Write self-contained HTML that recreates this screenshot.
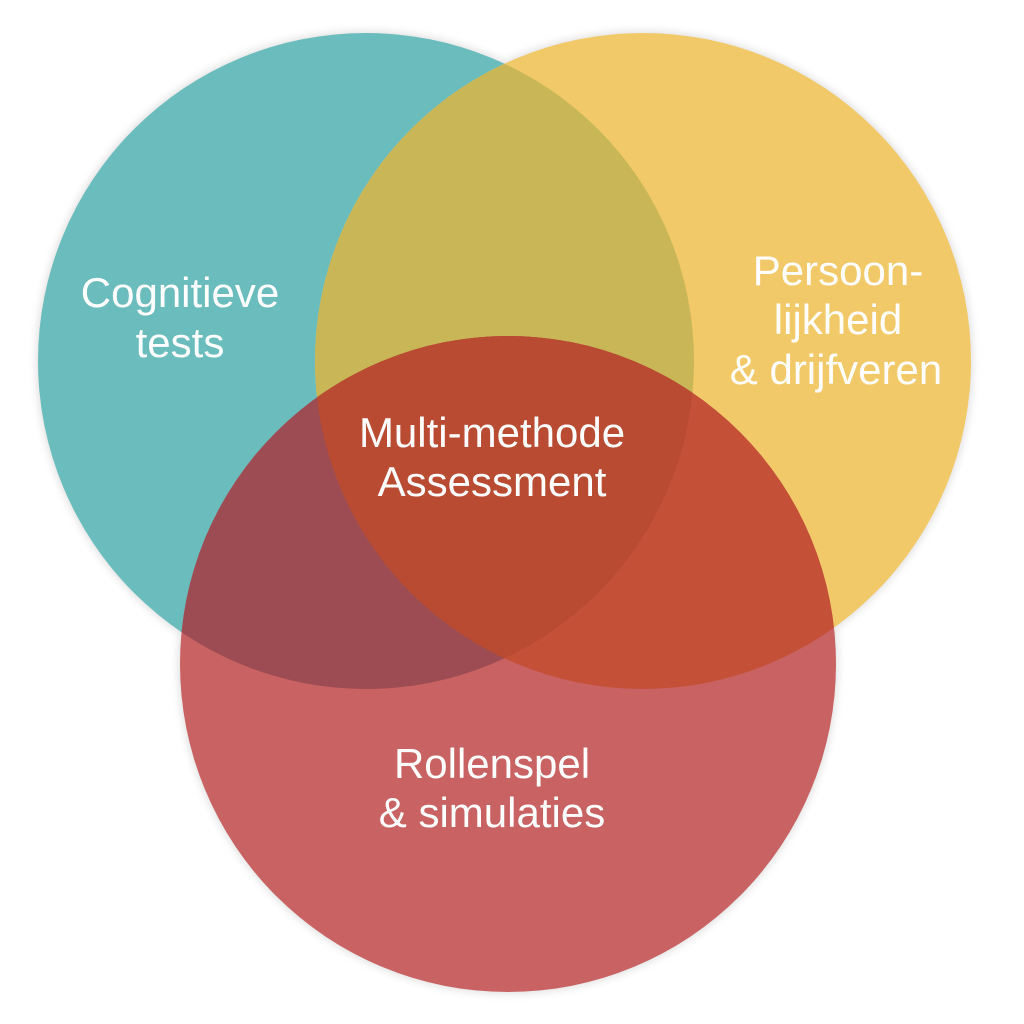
<!DOCTYPE html>
<html><head><meta charset="utf-8"><style>
html,body{margin:0;padding:0;background:#fff;width:1024px;height:1024px;overflow:hidden}
text{font-family:"Liberation Sans",sans-serif;fill:#fff;font-size:42px;text-anchor:middle}
</style></head><body>
<svg width="1024" height="1024" viewBox="0 0 1024 1024">
<defs>
<clipPath id="cT"><circle cx="366" cy="361" r="328"/></clipPath>
<clipPath id="cY"><circle cx="643" cy="361" r="328"/></clipPath>
<clipPath id="cR"><circle cx="508" cy="664" r="328"/></clipPath>
<filter id="sh" x="-10%" y="-10%" width="120%" height="120%"><feGaussianBlur stdDeviation="4"/></filter>
</defs>
<g opacity="0.25" filter="url(#sh)" fill="#888">
<circle cx="366" cy="361" r="330"/><circle cx="643" cy="361" r="330"/><circle cx="508" cy="664" r="330"/>
</g>
<circle cx="366" cy="361" r="328" fill="#6bbcbd"/>
<circle cx="643" cy="361" r="328" fill="#f2c968"/>
<circle cx="508" cy="664" r="328" fill="#c96262"/>
<circle cx="643" cy="361" r="328" fill="#c9b757" clip-path="url(#cT)"/>
<circle cx="508" cy="664" r="328" fill="#9c4c52" clip-path="url(#cT)"/>
<circle cx="508" cy="664" r="328" fill="#c55038" clip-path="url(#cY)"/>
<g clip-path="url(#cT)"><circle cx="508" cy="664" r="328" fill="#b84b32" clip-path="url(#cY)"/></g>
<text x="180" y="307">Cognitieve</text>
<text x="180" y="357">tests</text>
<text x="838" y="285">Persoon-</text>
<text x="838" y="334">lijkheid</text>
<text x="836" y="384">&amp; drijfveren</text>
<text x="492" y="447">Multi-methode</text>
<text x="492" y="496">Assessment</text>
<text x="492" y="778">Rollenspel</text>
<text x="492" y="827">&amp; simulaties</text>
</svg>
</body></html>
